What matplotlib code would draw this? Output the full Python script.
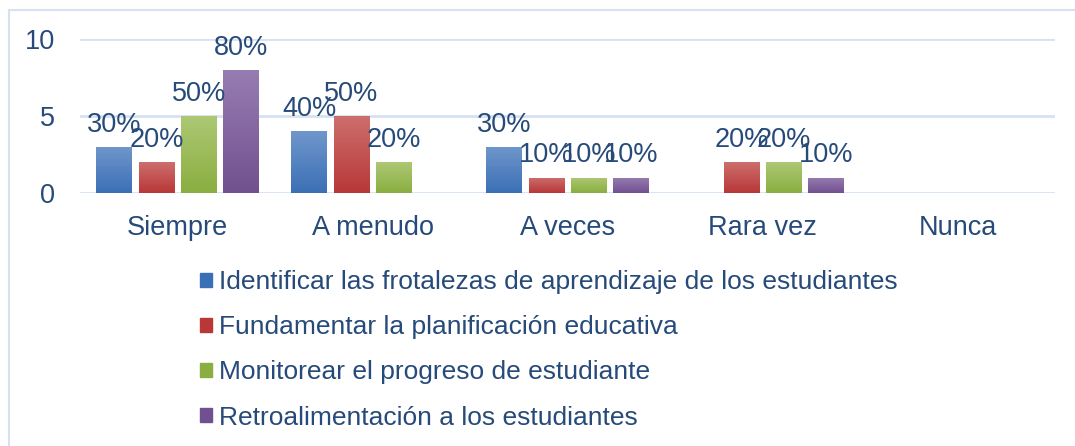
import matplotlib
matplotlib.use("Agg")
import matplotlib.pyplot as plt
import numpy as np
from matplotlib.patches import Rectangle
from matplotlib.colors import LinearSegmentedColormap

# datos del grafico
categorias = ["Siempre", "A menudo", "A veces", "Rara vez", "Nunca"]
series = [
    "Identificar las frotalezas de aprendizaje de los estudiantes",
    "Fundamentar la planificación educativa",
    "Monitorear el progreso de estudiante",
    "Retroalimentación a los estudiantes",
]
identificar = [3, 4, 3, 0, 0]
fundamentar = [2, 5, 1, 2, 0]
monitorear = [5, 2, 1, 2, 0]
retroalimentacion = [8, 0, 1, 1, 0]
total = 10
yticks = [0, 5, 10]

valores = [identificar, fundamentar, monitorear, retroalimentacion]
# colores (arriba claro, abajo oscuro) tipo Excel
colores = [("#7097cc", "#3b6fb5"), ("#cd6f6d", "#b83737"),
           ("#adc874", "#8aae40"), ("#977db2", "#71508f")]
texto = "#264a79"

plt.rcParams["font.family"] = ["Liberation Sans", "DejaVu Sans"]

fig = plt.figure(figsize=(10.75, 4.46), dpi=100)
ax = fig.add_axes([80/1075, 1-193/446, 975/1075, 154/446])

x = np.arange(len(categorias))
slot = 0.217
ancho = 0.18
grad = np.linspace(1, 0, 256).reshape(-1, 1)
for i, (vals, (c1, c2)) in enumerate(zip(valores, colores)):
    pos = x + (i - 1.5) * slot
    bars = ax.bar(pos, vals, width=ancho, color=c2, label=series[i], zorder=2)
    cmap = LinearSegmentedColormap.from_list(f"g{i}", [c2, c1])
    for b, v in zip(bars, vals):
        if v == 0:
            continue
        x0 = b.get_x()
        im = ax.imshow(grad, cmap=cmap, aspect="auto", zorder=3,
                       extent=(x0, x0 + b.get_width(), 0, b.get_height()),
                       vmin=0, vmax=1)
        im.set_clip_path(b)
        ax.annotate(f"{round(v / total * 100)}%", (b.get_x() + b.get_width()/2, v),
                    xytext=(0, 11), textcoords="offset points", ha="center",
                    va="baseline", fontsize=19.5, color=texto, zorder=4)

ax.set_xlim(-0.5, len(categorias) - 0.5)
ax.set_ylim(0, 10)
ax.set_yticks(yticks)
ax.set_xticks(x)
ax.set_xticklabels(categorias)
ax.tick_params(axis="both", length=0, labelsize=19.5, labelcolor=texto)
ax.tick_params(axis="y", pad=18)
ax.tick_params(axis="x", pad=16)
ax.grid(axis="y", color="#d6e2f2", linewidth=2, zorder=0)
ax.set_axisbelow(True)
for s in ax.spines.values():
    s.set_visible(False)

handles, labels = ax.get_legend_handles_labels()
leg = fig.legend(handles, labels, loc="upper left", bbox_to_anchor=(187/1075, 1-257/446),
                 frameon=False, fontsize=19, handlelength=0.45, handleheight=0.45,
                 handletextpad=0.28, labelspacing=0.8, borderpad=0, labelcolor=texto)
for h, (c1, c2) in zip(leg.legend_handles, colores):
    h.set_color(c2)

# marco del area del grafico
fig.patches.append(Rectangle((9/1075, -0.1), 1.2, 1.1 - 10/446, transform=fig.transFigure,
                             fill=False, edgecolor="#d6e2f1", linewidth=1.5))

plt.savefig("out.png", dpi=100)
